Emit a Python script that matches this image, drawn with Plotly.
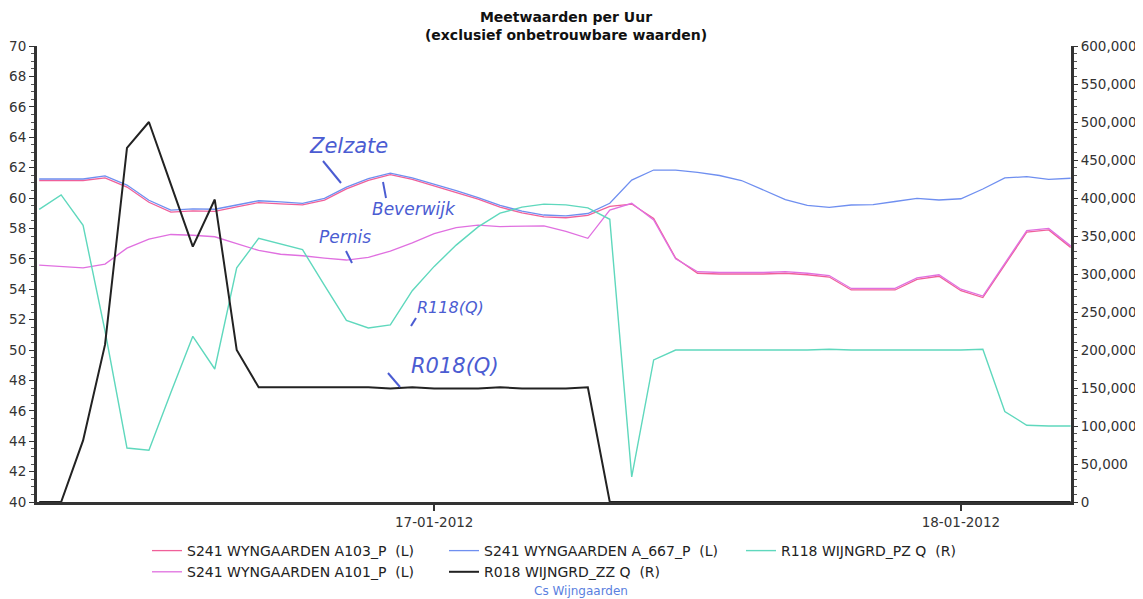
import pandas as pd
import plotly.graph_objects as go

# hourly timestamps 16-01-2012 06:00 .. 18-01-2012 05:00
times = pd.date_range("2012-01-16 06:00", periods=48, freq="h")

a667 = [61.25, 61.25, 61.25, 61.45, 60.85, 59.85, 59.2, 59.28, 59.26, 59.54, 59.82, 59.74,
        59.65, 59.98, 60.72, 61.28, 61.64, 61.32, 60.92, 60.49, 60.03, 59.51, 59.14, 58.88,
        58.82, 58.98, 59.65, 61.18, 61.84, 61.84, 61.68, 61.48, 61.15, 60.53, 59.9, 59.51,
        59.38, 59.54, 59.56, 59.77, 59.98, 59.87, 59.95, 60.59, 61.32, 61.40, 61.23, 61.30]

a103 = [61.15, 61.15, 61.15, 61.32, 60.72, 59.72, 59.07, 59.15, 59.12, 59.42, 59.7, 59.62,
        59.55, 59.86, 60.6, 61.16, 61.54, 61.22, 60.8, 60.37, 59.92, 59.4, 59.02, 58.76,
        58.7, 58.86, 59.45, 59.6, 58.65, 56.05, 55.05, 55.0, 55.0, 55.0, 55.05, 54.95,
        54.8, 53.95, 53.95, 53.95, 54.65, 54.85, 53.9, 53.45, 55.6, 57.75, 57.9, 56.75]

a101 = [55.59, 55.5, 55.4, 55.65, 56.7, 57.3, 57.6, 57.55, 57.45, 57.0, 56.55, 56.3,
        56.2, 56.05, 55.92, 56.1, 56.5, 57.05, 57.65, 58.05, 58.22, 58.12, 58.12, 58.16,
        57.8, 57.35, 59.2, 59.65, 58.55, 56.0, 55.15, 55.1, 55.1, 55.1, 55.15, 55.05,
        54.9, 54.05, 54.05, 54.05, 54.75, 54.95, 54.0, 53.55, 55.7, 57.85, 58.0, 56.85]

r118 = [385000, 404000, 364000, 225000, 71000, 68000, 144000, 218000, 175000, 308000, 347000, 340000,
        332000, 285000, 239000, 229000, 233000, 278000, 310000, 338000, 362000, 380000, 388000, 392000,
        391000, 387000, 372000, 33000, 187000, 200000, 200000, 200000, 200000, 200000, 200000, 200000,
        201000, 200000, 200000, 200000, 200000, 200000, 200000, 201000, 119000, 101000, 100000, 100000]

r018 = [0, 0, 81000, 207000, 466000, 500000, 418000, 336000, 398000, 200000, 151000, 151000,
        151000, 151000, 151000, 151000, 149500, 151000, 149500, 149500, 149500, 151000, 149500, 149500,
        149500, 151000, 0, 0, 0, 0, 0, 0, 0, 0, 0, 0,
        0, 0, 0, 0, 0, 0, 0, 0, 0, 0, 0, 0]

date_ticks = ["2012-01-17", "2012-01-18"]
date_labels = ["17-01-2012", "18-01-2012"]

fig = go.Figure()
fig.add_trace(go.Scatter(x=times, y=a103, mode="lines", name="S241 WYNGAARDEN A103_P\u00a0 (L)",
                         line=dict(color="#f0609a", width=1.3)))
fig.add_trace(go.Scatter(x=times, y=a667, mode="lines", name="S241 WYNGAARDEN A_667_P\u00a0 (L)",
                         line=dict(color="#6f8ff0", width=1.3)))
fig.add_trace(go.Scatter(x=times, y=r118, mode="lines", name="R118 WIJNGRD_PZ Q\u00a0 (R)",
                         line=dict(color="#5fd8bd", width=1.4), yaxis="y2"))
fig.add_trace(go.Scatter(x=times, y=a101, mode="lines", name="S241 WYNGAARDEN A101_P\u00a0 (L)",
                         line=dict(color="#e070e0", width=1.3)))
fig.add_trace(go.Scatter(x=times, y=r018, mode="lines", name="R018 WIJNGRD_ZZ Q\u00a0 (R)",
                         line=dict(color="#222222", width=2), yaxis="y2"))

# page is offset by the default 8px body margin
OFF = 8
W, H = 1143 - OFF, 599 - OFF
L, R, T, B = 37, 1071, 46, 502          # plot area in page pixels
def px(x):
    return (x - L) / (R - L)
def py(y):
    return (B - y) / (B - T)

hand = "#4b5cd2"
labels = [("Zelzate", 348, 146, 21), ("Beverwijk", 414, 209, 17), ("Pernis", 345, 237, 17),
          ("R118(Q)", 450, 307, 16), ("R018(Q)", 455, 366, 21)]
annotations = []
for t, x, y, s in labels:
    annotations.append(dict(text=t, x=px(x), y=py(y), xref="paper", yref="paper",
                            xanchor="center", yanchor="middle", showarrow=False,
                            font=dict(family="DejaVu Sans", size=s, color=hand, style="italic")))
annotations.append(dict(text="Cs Wijngaarden", x=px(581), y=py(591), xref="paper", yref="paper",
                        xanchor="center", yanchor="middle", showarrow=False,
                        font=dict(family="DejaVu Sans", size=12, color="#5b7fe0")))

strokes = [(323, 161, 341, 183), (383, 182, 386, 198), (346, 251, 352, 263),
           (411, 326, 416, 318), (388, 373, 400, 387)]
shapes = [dict(type="line", xref="paper", yref="paper", x0=px(a), y0=py(b), x1=px(c), y1=py(d),
               line=dict(color=hand, width=2)) for a, b, c, d in strokes]

tick_font = dict(family="DejaVu Sans", size=13.5, color="#333")

fig.update_layout(
    width=W, height=H,
    margin=dict(l=L - OFF, r=W - (R - OFF), t=T - OFF, b=H - (B - OFF), autoexpand=False),
    paper_bgcolor="white", plot_bgcolor="white",
    title=dict(text="<b>Meetwaarden per Uur<br>(exclusief onbetrouwbare waarden)</b>",
               x=(566 - OFF) / W, xanchor="center", y=1 - (22 - OFF) / H, yanchor="middle",
               font=dict(family="DejaVu Sans", size=14, color="#111")),
    font=dict(family="DejaVu Sans", size=13, color="#222"),
    xaxis=dict(range=["2012-01-16 05:54", "2012-01-18 05:01"], tickvals=date_ticks, ticktext=date_labels,
               ticks="outside", ticklen=6, tickwidth=2, tickcolor="#333", showgrid=False,
               showline=True, linewidth=3, linecolor="#333", zeroline=False, tickfont=tick_font),
    yaxis=dict(range=[40, 70], dtick=2, ticks="outside", ticklen=5, tickcolor="#333",
               showgrid=False, showline=True, linewidth=3, linecolor="#333", zeroline=False,
               minor=dict(dtick=0.5, ticklen=3, tickcolor="#555", ticks="outside"),
               tickfont=tick_font),
    yaxis2=dict(range=[0, 600000], dtick=50000, tickformat=",d", overlaying="y", side="right",
                ticks="outside", ticklen=4, tickcolor="#333", showgrid=False, showline=True,
                linewidth=3, linecolor="#333", zeroline=False,
                minor=dict(dtick=10000, ticklen=3, tickcolor="#555", ticks="outside"),
                tickfont=tick_font),
    legend=dict(orientation="h", x=px(147), xanchor="left", y=py(535), yanchor="top",
                entrywidth=252, entrywidthmode="pixels",
                font=dict(family="DejaVu Sans", size=14, color="#222"),
                bgcolor="rgba(0,0,0,0)", tracegroupgap=0),
    annotations=annotations,
    shapes=shapes,
)

fig.write_html("out.html")
